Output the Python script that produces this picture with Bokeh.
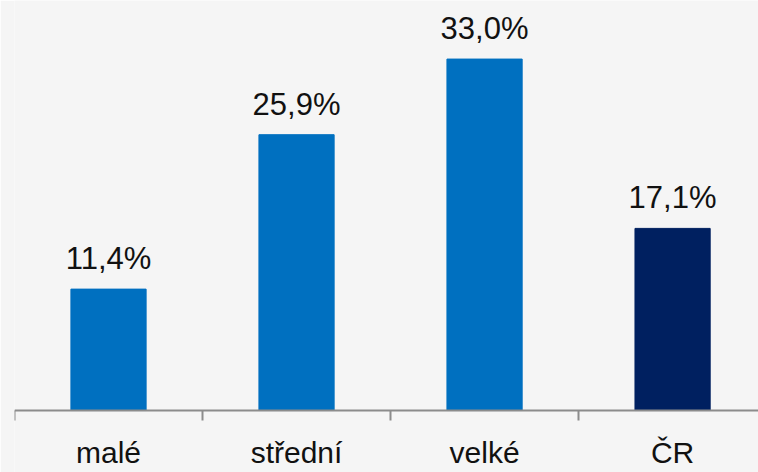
from bokeh.plotting import figure
from bokeh.models import ColumnDataSource, FixedTicker, Range1d
from bokeh.core.properties import value
from bokeh.embed import file_html
from bokeh.resources import INLINE

categories = ["malé", "střední", "velké", "ČR"]
values = [11.4, 25.9, 33.0, 17.1]
labels = ["11,4%", "25,9%", "33,0%", "17,1%"]
colors = ["#0070C0", "#0070C0", "#0070C0", "#002060"]

xpos = [i + 0.5 for i in range(len(categories))]
src = ColumnDataSource(dict(x=xpos, top=values, color=colors, label=labels))

p = figure(width=758, height=472, output_backend="svg", toolbar_location=None,
           x_range=Range1d(0, 3.957), y_range=Range1d(-5.82, 38.5),
           min_border_left=14, min_border_right=0, min_border_top=0, min_border_bottom=0)
p.background_fill_color = "#f5f5f5"
p.border_fill_color = "#f5f5f5"
p.outline_line_color = None
p.grid.visible = False
p.yaxis.visible = False

p.vbar(x="x", top="top", bottom=0, width=0.4, color="color", source=src)
p.text(x="x", y="top", text="label", source=src, text_align="center",
       text_baseline="bottom", y_offset=-13, text_font=value("Liberation Sans"),
       text_font_size="31px", text_color="#111111")

ax = p.xaxis[0]
ax.fixed_location = 0
ax.ticker = FixedTicker(ticks=xpos, minor_ticks=[0, 1, 2, 3, 4])
ax.major_label_overrides = {x: c for x, c in zip(xpos, categories)}
ax.major_label_standoff = 15
ax.major_label_text_font = "Liberation Sans"
ax.major_label_text_font_size = "30px"
ax.major_label_text_color = "#111111"
ax.major_tick_out = 0
ax.major_tick_in = 0
ax.minor_tick_out = 10
ax.minor_tick_in = 0
ax.minor_tick_line_color = "#8c8c8c"
ax.minor_tick_line_width = 2
ax.axis_line_color = "#8c8c8c"
ax.axis_line_width = 2

open("out.html", "w").write(file_html(p, INLINE))
